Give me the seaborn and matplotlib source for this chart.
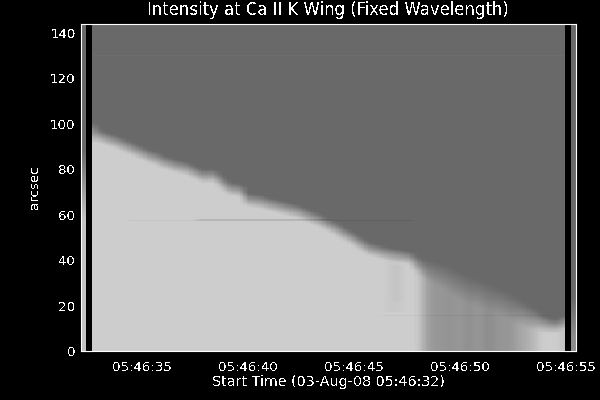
"""Intensity at Ca II K wing, slit position vs time, drawn as a seaborn heatmap."""

import numpy as np
import matplotlib
matplotlib.use("Agg")
import matplotlib.pyplot as plt
from matplotlib.ticker import FixedLocator
import seaborn as sns

# time axis (seconds after 05:46:00) and slit axis (arcsec)
t_start = 32.1
t_step = 0.2486
arcsec_step = 0.5
arcsec_top = 144.1

major_seconds = [35, 40, 45, 50, 55]
major_labels = ["05:46:35", "05:46:40", "05:46:45", "05:46:50", "05:46:55"]
minor_seconds = [33, 34, 36, 37, 38, 39, 41, 42, 43, 44, 46, 47, 48, 49, 51, 52, 53, 54]
arcsec_major = [0, 20, 40, 60, 80, 100, 120, 140]
arcsec_minor = [5, 10, 15, 25, 30, 35, 45, 50, 55, 65, 70, 75, 85, 90, 95, 105, 110, 115, 125, 130, 135]

# height of the bright/dark edge in every exposure (arcsec)
edge_height = [
    73, 0, 96, 94.5, 93.5, 92.7, 92, 91, 90, 89,
    88, 87, 86, 85, 84.5, 83, 82.5, 81.5, 81, 80.5,
    79.8, 78.5, 77.5, 76.5, 77.2, 76.5, 74.5, 72.5, 71, 71,
    70, 66.5, 66, 65.8, 65.3, 64.5, 64, 63.4, 62.8, 62.2,
    61.7, 61, 60, 59, 58.2, 57.2, 55.8, 54.7, 53.7, 52,
    50.8, 49.5, 48, 46.5, 45, 44.3, 43.7, 43, 42.5, 42,
    41.7, 41.2, 40.8, 38.5, 36.5, 35.5, 34.5, 33.8, 33, 32,
    30.5, 29, 28, 27, 26, 25.2, 24.5, 23.8, 22.8, 21.5,
    20.5, 19.3, 18, 16.8, 15.5, 14.3, 13.3, 12.2, 11.4, 11,
    10.9, 12.5, 0, 15,
]
# softness of that edge (arcsec)
edge_width = [
    30, 1, 9, 6, 6, 6, 6, 6, 6, 6,
    6, 6, 6, 6, 6, 6, 6, 6, 6, 6,
    6, 6, 6, 6, 6, 6, 6, 6, 6, 6,
    6, 6, 6, 6, 6, 6, 6, 6, 6, 6,
    6, 6, 6, 6, 6, 6, 6, 6, 6, 6,
    6, 6, 6, 6, 6, 6, 6, 6, 6, 6,
    6, 6, 6, 7, 8, 9, 10, 10, 11, 11,
    12, 12, 12, 12, 12, 12, 12, 12, 12, 12,
    12, 12, 12, 11, 11, 10, 9, 8, 7, 6,
    6, 6, 1, 18,
]
# gray level below the edge
low_gray = [
    195, 0, 205, 205, 205, 205, 205, 205, 205, 205,
    205, 205, 205, 205, 205, 205, 205, 205, 205, 205,
    205, 205, 205, 205, 205, 205, 205, 205, 205, 205,
    205, 205, 205, 205, 205, 205, 205, 205, 205, 205,
    205, 205, 205, 205, 205, 205, 205, 205, 205, 205,
    205, 205, 205, 205, 205, 205, 205, 205, 205, 205,
    205, 205, 205, 205, 190, 165, 155, 150, 150, 148,
    148, 150, 150, 142, 148, 150, 145, 140, 146, 150,
    150, 150, 158, 166, 172, 180, 192, 202, 205, 205,
    204, 196, 0, 140,
]
dark_gray = 105
black_columns = [1, 92]

# thin streaks: arcsec, first column, last column, gray change
streak_arcsec = [57.2, 57.5, 57.0, 129.5, 15.7]
streak_first = [9, 22, 22, 2, 57]
streak_last = [62, 46, 46, 91, 88]
streak_delta = [-10, -25, -12, 4, -8]

# faint darker patches above the bottom, just left of the gray part
patch_first = [58, 59]
patch_last = [60, 60]
patch_low = [17, 22]
patch_high = [41, 38]
patch_delta = [-5, -4]

# image columns get resampled and blurred along time, as in the source image
upsample = 4
blur_cells = 7


def build_frame():
    rows = int(round(arcsec_top / arcsec_step))
    heights = (np.arange(rows) + 0.5) * arcsec_step
    frame = np.zeros((rows, len(edge_height)))
    for col in range(len(edge_height)):
        if col in black_columns:
            continue
        frac = np.clip((edge_height[col] - heights) / edge_width[col] + 0.5, 0, 1)
        frame[:, col] = dark_gray + (low_gray[col] - dark_gray) * frac
    for first, last, low, high, delta in zip(patch_first, patch_last, patch_low, patch_high, patch_delta):
        frame[int(low / arcsec_step):int(high / arcsec_step), first:last + 1] += delta
    for a, first, last, delta in zip(streak_arcsec, streak_first, streak_last, streak_delta):
        frame[int(a / arcsec_step), first:last + 1] += delta
    return frame


def smooth_frame(frame):
    wide = np.repeat(frame, upsample, axis=1)
    kernel = np.ones(blur_cells) / blur_cells
    first = (black_columns[0] + 1) * upsample
    last = black_columns[1] * upsample
    inner = wide[:, first:last]
    padded = np.pad(inner, ((0, 0), (blur_cells, blur_cells)), mode="edge")
    blurred = np.apply_along_axis(lambda r: np.convolve(r, kernel, mode="same"), 1, padded)
    wide[:, first:last] = blurred[:, blur_cells:-blur_cells]
    return wide


def sec_to_col(sec):
    return (np.array(sec) - t_start) / t_step * upsample


def main():
    sns.set_theme(style="ticks", rc={
        "figure.facecolor": "black", "axes.facecolor": "black",
        "axes.edgecolor": "white", "axes.linewidth": 0.8,
        "text.color": "white", "axes.labelcolor": "white",
        "xtick.color": "white", "ytick.color": "white",
        "text.antialiased": False,
    })
    plt.rcParams["font.family"] = ["DejaVu Sans"]

    fig = plt.figure(figsize=(6, 4), dpi=100)
    ax = fig.add_axes([81 / 600, 49 / 400, 495 / 600, 327.5 / 400])
    frame = smooth_frame(build_frame())
    sns.heatmap(frame, cmap="gray", vmin=0, vmax=255, cbar=False,
                xticklabels=False, yticklabels=False, ax=ax)
    ax.set_xlim(0, frame.shape[1])
    ax.set_ylim(0, frame.shape[0])

    for side in ax.spines.values():
        side.set_visible(True)
        side.set_color("white")
        side.set_linewidth(0.8)

    ax.set_xticks(sec_to_col(major_seconds))
    ax.set_xticklabels(major_labels, fontsize=9.6)
    ax.xaxis.set_minor_locator(FixedLocator(sec_to_col(minor_seconds)))
    ax.set_yticks(np.array(arcsec_major) / arcsec_step)
    ax.set_yticklabels([str(v) for v in arcsec_major], fontsize=9.6, rotation=0)
    ax.yaxis.set_minor_locator(FixedLocator(np.array(arcsec_minor) / arcsec_step))

    ax.tick_params(axis="x", which="major", direction="in", top=True, bottom=True,
                   length=4.3, width=0.8, pad=7)
    ax.tick_params(axis="x", which="minor", direction="in", top=True, bottom=True,
                   length=2, width=0.8)
    ax.tick_params(axis="y", which="major", direction="in", left=True, right=True,
                   length=7.8, width=0.8, pad=4)
    ax.tick_params(axis="y", which="minor", direction="in", left=True, right=True,
                   length=4, width=0.8)

    fig.text(328 / 600, 1 - 10 / 400, "Intensity at Ca II K Wing (Fixed Wavelength)",
             ha="center", va="center", fontsize=11.9)
    fig.text(328 / 600, 1 - 382 / 400, "Start Time (03-Aug-08 05:46:32)",
             ha="center", va="center", fontsize=10.3)
    fig.text(35 / 600, 1 - 187 / 400, "arcsec", ha="center", va="center",
             rotation=90, fontsize=9.6)

    fig.savefig("out.png", dpi=100, facecolor="black")
    plt.close(fig)


if __name__ == "__main__":
    main()
